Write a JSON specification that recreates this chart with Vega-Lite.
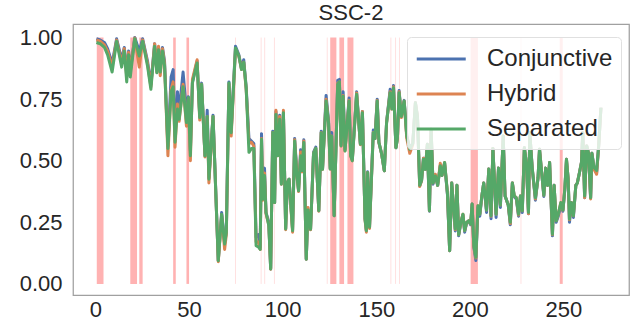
{
"$schema": "https://vega.github.io/schema/vega-lite/v6.json",
"width": 556, "height": 271,
"autosize": {"type": "none"},
"padding": {"left": 73, "top": 24, "right": 3, "bottom": 32},
"background": "white",
"config": {
  "font": "Liberation Sans",
  "view": {"stroke": "#a0a0a0", "strokeWidth": 1.25},
  "axis": {"grid": false, "ticks": false, "tickSize": 0, "domain": false, "labelFontSize": 22, "labelColor": "#262626", "labelFont": "Liberation Sans", "title": null}
},
"title": {"text": "SSC-2", "fontSize": 22, "fontWeight": "normal", "color": "#262626", "anchor": "middle", "offset": 0, "dy": 1, "font": "Liberation Sans"},
"datasets": {
"spans": [
{"start": 0.7, "end": 4.3}, {"start": 18.6, "end": 22.2}, {"start": 23.4, "end": 25.2}, {"start": 41.5, "end": 42.9}, {"start": 48.6, "end": 50.0},
{"start": 125.4, "end": 128.7}, {"start": 130.3, "end": 132.8}, {"start": 134.6, "end": 137.8}, {"start": 200.4, "end": 204.3}, {"start": 248.0, "end": 249.6}
],
"marks": [
{"x": 74.8}, {"x": 88.5}, {"x": 90.4}, {"x": 95.6}, {"x": 123.8}, {"x": 157.8}, {"x": 160.3}, {"x": 162.4}, {"x": 227.3}
],
"series": [
{"x":0.5,"Conjunctive":0.995,"Hybrid":0.99,"Separated":0.98},
{"x":2.5,"Conjunctive":0.99,"Hybrid":0.985,"Separated":0.975},
{"x":4.8,"Conjunctive":0.98,"Hybrid":0.97,"Separated":0.96},
{"x":6.5,"Conjunctive":0.955,"Hybrid":0.945,"Separated":0.93},
{"x":8.9,"Conjunctive":0.895,"Hybrid":0.88,"Separated":0.86},
{"x":11.3,"Conjunctive":0.995,"Hybrid":0.99,"Separated":0.985},
{"x":14,"Conjunctive":0.91,"Hybrid":0.895,"Separated":0.88},
{"x":15.4,"Conjunctive":0.96,"Hybrid":0.955,"Separated":0.945},
{"x":16.7,"Conjunctive":0.855,"Hybrid":0.84,"Separated":0.82},
{"x":17.7,"Conjunctive":0.945,"Hybrid":0.94,"Separated":0.93},
{"x":18.6,"Conjunctive":0.87,"Hybrid":0.86,"Separated":0.84},
{"x":21,"Conjunctive":1.0,"Hybrid":0.998,"Separated":0.995},
{"x":23.4,"Conjunctive":0.945,"Hybrid":0.88,"Separated":0.925},
{"x":25.2,"Conjunctive":0.995,"Hybrid":0.99,"Separated":0.985},
{"x":27.8,"Conjunctive":0.905,"Hybrid":0.895,"Separated":0.885},
{"x":29.6,"Conjunctive":0.81,"Hybrid":0.80,"Separated":0.79},
{"x":31.6,"Conjunctive":0.975,"Hybrid":0.975,"Separated":0.965},
{"x":32.8,"Conjunctive":0.875,"Hybrid":0.86,"Separated":0.857},
{"x":33.7,"Conjunctive":0.96,"Hybrid":0.965,"Separated":0.95},
{"x":34.6,"Conjunctive":0.875,"Hybrid":0.845,"Separated":0.86},
{"x":35.8,"Conjunctive":0.96,"Hybrid":0.955,"Separated":0.945},
{"x":36.9,"Conjunctive":0.905,"Hybrid":0.895,"Separated":0.885},
{"x":38.7,"Conjunctive":0.56,"Hybrid":0.52,"Separated":0.55},
{"x":40.4,"Conjunctive":0.84,"Hybrid":0.79,"Separated":0.78},
{"x":41.5,"Conjunctive":0.87,"Hybrid":0.82,"Separated":0.80},
{"x":42.5,"Conjunctive":0.60,"Hybrid":0.555,"Separated":0.575},
{"x":43.8,"Conjunctive":0.78,"Hybrid":0.73,"Separated":0.71},
{"x":44.7,"Conjunctive":0.70,"Hybrid":0.66,"Separated":0.668},
{"x":46.8,"Conjunctive":0.86,"Hybrid":0.81,"Separated":0.80},
{"x":48.6,"Conjunctive":0.70,"Hybrid":0.64,"Separated":0.655},
{"x":49.6,"Conjunctive":0.76,"Hybrid":0.75,"Separated":0.757},
{"x":50.7,"Conjunctive":0.54,"Hybrid":0.50,"Separated":0.52},
{"x":51.8,"Conjunctive":0.82,"Hybrid":0.83,"Separated":0.816},
{"x":54.3,"Conjunctive":0.905,"Hybrid":0.91,"Separated":0.897},
{"x":55.7,"Conjunctive":0.68,"Hybrid":0.665,"Separated":0.675},
{"x":56.7,"Conjunctive":0.815,"Hybrid":0.81,"Separated":0.81},
{"x":58.5,"Conjunctive":0.52,"Hybrid":0.515,"Separated":0.52},
{"x":59.7,"Conjunctive":0.705,"Hybrid":0.68,"Separated":0.68},
{"x":60.6,"Conjunctive":0.43,"Hybrid":0.41,"Separated":0.425},
{"x":62.8,"Conjunctive":0.685,"Hybrid":0.68,"Separated":0.68},
{"x":65.6,"Conjunctive":0.094,"Hybrid":0.09,"Separated":0.094},
{"x":67.4,"Conjunctive":0.29,"Hybrid":0.28,"Separated":0.283},
{"x":69,"Conjunctive":0.17,"Hybrid":0.14,"Separated":0.162},
{"x":69.9,"Conjunctive":0.21,"Hybrid":0.20,"Separated":0.21},
{"x":71.3,"Conjunctive":0.82,"Hybrid":0.81,"Separated":0.816},
{"x":72.5,"Conjunctive":0.62,"Hybrid":0.60,"Separated":0.614},
{"x":74.8,"Conjunctive":0.965,"Hybrid":0.955,"Separated":0.958},
{"x":76.6,"Conjunctive":0.93,"Hybrid":0.925,"Separated":0.925},
{"x":78,"Conjunctive":0.875,"Hybrid":0.87,"Separated":0.87},
{"x":79.2,"Conjunctive":0.91,"Hybrid":0.90,"Separated":0.90},
{"x":80.5,"Conjunctive":0.80,"Hybrid":0.79,"Separated":0.796},
{"x":82,"Conjunctive":0.59,"Hybrid":0.57,"Separated":0.534},
{"x":83.3,"Conjunctive":0.58,"Hybrid":0.575,"Separated":0.55},
{"x":84.6,"Conjunctive":0.57,"Hybrid":0.56,"Separated":0.55},
{"x":85.8,"Conjunctive":0.19,"Hybrid":0.17,"Separated":0.155},
{"x":87,"Conjunctive":0.20,"Hybrid":0.17,"Separated":0.15},
{"x":88,"Conjunctive":0.15,"Hybrid":0.14,"Separated":0.14},
{"x":88.7,"Conjunctive":0.61,"Hybrid":0.59,"Separated":0.587},
{"x":89.4,"Conjunctive":0.35,"Hybrid":0.34,"Separated":0.344},
{"x":90.3,"Conjunctive":0.47,"Hybrid":0.45,"Separated":0.44},
{"x":91.1,"Conjunctive":0.29,"Hybrid":0.285,"Separated":0.29},
{"x":92.6,"Conjunctive":0.25,"Hybrid":0.24,"Separated":0.236},
{"x":93.6,"Conjunctive":0.061,"Hybrid":0.06,"Separated":0.061},
{"x":94.7,"Conjunctive":0.62,"Hybrid":0.615,"Separated":0.615},
{"x":95.7,"Conjunctive":0.33,"Hybrid":0.33,"Separated":0.33},
{"x":96.4,"Conjunctive":0.70,"Hybrid":0.705,"Separated":0.688},
{"x":97.3,"Conjunctive":0.525,"Hybrid":0.52,"Separated":0.52},
{"x":98.4,"Conjunctive":0.685,"Hybrid":0.68,"Separated":0.668},
{"x":99.3,"Conjunctive":0.41,"Hybrid":0.405,"Separated":0.405},
{"x":100.4,"Conjunctive":0.695,"Hybrid":0.705,"Separated":0.695},
{"x":101.6,"Conjunctive":0.225,"Hybrid":0.22,"Separated":0.223},
{"x":102.5,"Conjunctive":0.41,"Hybrid":0.41,"Separated":0.41},
{"x":103.4,"Conjunctive":0.425,"Hybrid":0.425,"Separated":0.425},
{"x":105.3,"Conjunctive":0.22,"Hybrid":0.21,"Separated":0.216},
{"x":106.4,"Conjunctive":0.59,"Hybrid":0.585,"Separated":0.58},
{"x":107.6,"Conjunctive":0.45,"Hybrid":0.44,"Separated":0.44},
{"x":108.5,"Conjunctive":0.38,"Hybrid":0.375,"Separated":0.378},
{"x":109.6,"Conjunctive":0.545,"Hybrid":0.535,"Separated":0.52},
{"x":110.3,"Conjunctive":0.47,"Hybrid":0.455,"Separated":0.46},
{"x":111.3,"Conjunctive":0.585,"Hybrid":0.58,"Separated":0.574},
{"x":112.6,"Conjunctive":0.10,"Hybrid":0.10,"Separated":0.10},
{"x":113.5,"Conjunctive":0.30,"Hybrid":0.31,"Separated":0.30},
{"x":114.9,"Conjunctive":0.222,"Hybrid":0.22,"Separated":0.222},
{"x":116.5,"Conjunctive":0.535,"Hybrid":0.53,"Separated":0.53},
{"x":117.7,"Conjunctive":0.555,"Hybrid":0.55,"Separated":0.55},
{"x":119.3,"Conjunctive":0.297,"Hybrid":0.295,"Separated":0.297},
{"x":120.6,"Conjunctive":0.62,"Hybrid":0.615,"Separated":0.614},
{"x":121.3,"Conjunctive":0.47,"Hybrid":0.465,"Separated":0.465},
{"x":123.2,"Conjunctive":0.765,"Hybrid":0.75,"Separated":0.742},
{"x":124.5,"Conjunctive":0.665,"Hybrid":0.655,"Separated":0.655},
{"x":125.4,"Conjunctive":0.47,"Hybrid":0.466,"Separated":0.466},
{"x":126.2,"Conjunctive":0.615,"Hybrid":0.60,"Separated":0.60},
{"x":127.5,"Conjunctive":0.277,"Hybrid":0.277,"Separated":0.277},
{"x":129.4,"Conjunctive":0.826,"Hybrid":0.815,"Separated":0.81},
{"x":130.3,"Conjunctive":0.83,"Hybrid":0.82,"Separated":0.82},
{"x":131.2,"Conjunctive":0.565,"Hybrid":0.56,"Separated":0.56},
{"x":132.3,"Conjunctive":0.78,"Hybrid":0.765,"Separated":0.762},
{"x":133.3,"Conjunctive":0.545,"Hybrid":0.54,"Separated":0.54},
{"x":135.5,"Conjunctive":0.755,"Hybrid":0.745,"Separated":0.742},
{"x":136.3,"Conjunctive":0.525,"Hybrid":0.52,"Separated":0.52},
{"x":137.2,"Conjunctive":0.505,"Hybrid":0.50,"Separated":0.50},
{"x":139.5,"Conjunctive":0.78,"Hybrid":0.775,"Separated":0.77},
{"x":141.5,"Conjunctive":0.57,"Hybrid":0.565,"Separated":0.567},
{"x":142.6,"Conjunctive":0.70,"Hybrid":0.70,"Separated":0.695},
{"x":144,"Conjunctive":0.265,"Hybrid":0.26,"Separated":0.263},
{"x":144.7,"Conjunctive":0.216,"Hybrid":0.21,"Separated":0.216},
{"x":145.4,"Conjunctive":0.455,"Hybrid":0.452,"Separated":0.452},
{"x":146.4,"Conjunctive":0.23,"Hybrid":0.225,"Separated":0.23},
{"x":148.4,"Conjunctive":0.625,"Hybrid":0.615,"Separated":0.614},
{"x":149.3,"Conjunctive":0.59,"Hybrid":0.59,"Separated":0.59},
{"x":150.5,"Conjunctive":0.75,"Hybrid":0.745,"Separated":0.742},
{"x":151.4,"Conjunctive":0.575,"Hybrid":0.574,"Separated":0.574},
{"x":152.8,"Conjunctive":0.53,"Hybrid":0.53,"Separated":0.53},
{"x":154.3,"Conjunctive":0.459,"Hybrid":0.459,"Separated":0.459},
{"x":155.5,"Conjunctive":0.655,"Hybrid":0.654,"Separated":0.654},
{"x":157.4,"Conjunctive":0.79,"Hybrid":0.78,"Separated":0.776},
{"x":158.3,"Conjunctive":0.72,"Hybrid":0.71,"Separated":0.71},
{"x":159.2,"Conjunctive":0.805,"Hybrid":0.80,"Separated":0.796},
{"x":160.5,"Conjunctive":0.553,"Hybrid":0.553,"Separated":0.553},
{"x":161.3,"Conjunctive":0.59,"Hybrid":0.59,"Separated":0.59},
{"x":162.2,"Conjunctive":0.785,"Hybrid":0.78,"Separated":0.776},
{"x":163.4,"Conjunctive":0.68,"Hybrid":0.675,"Separated":0.68},
{"x":164.9,"Conjunctive":0.745,"Hybrid":0.742,"Separated":0.742},
{"x":166.3,"Conjunctive":0.60,"Hybrid":0.59,"Separated":0.60},
{"x":167.9,"Conjunctive":0.55,"Hybrid":0.53,"Separated":0.547},
{"x":169.5,"Conjunctive":0.57,"Hybrid":0.565,"Separated":0.57},
{"x":170.9,"Conjunctive":0.735,"Hybrid":0.735,"Separated":0.735},
{"x":172,"Conjunctive":0.68,"Hybrid":0.68,"Separated":0.68},
{"x":173.2,"Conjunctive":0.40,"Hybrid":0.395,"Separated":0.40},
{"x":174.2,"Conjunctive":0.42,"Hybrid":0.42,"Separated":0.42},
{"x":175.2,"Conjunctive":0.51,"Hybrid":0.51,"Separated":0.506},
{"x":176.2,"Conjunctive":0.465,"Hybrid":0.465,"Separated":0.465},
{"x":177.3,"Conjunctive":0.567,"Hybrid":0.567,"Separated":0.567},
{"x":178.4,"Conjunctive":0.295,"Hybrid":0.297,"Separated":0.297},
{"x":179.3,"Conjunctive":0.628,"Hybrid":0.628,"Separated":0.628},
{"x":180.3,"Conjunctive":0.405,"Hybrid":0.41,"Separated":0.41},
{"x":181.6,"Conjunctive":0.44,"Hybrid":0.445,"Separated":0.438},
{"x":182.8,"Conjunctive":0.40,"Hybrid":0.40,"Separated":0.40},
{"x":184.2,"Conjunctive":0.48,"Hybrid":0.49,"Separated":0.48},
{"x":185.1,"Conjunctive":0.44,"Hybrid":0.44,"Separated":0.44},
{"x":186.5,"Conjunctive":0.49,"Hybrid":0.493,"Separated":0.493},
{"x":188,"Conjunctive":0.365,"Hybrid":0.37,"Separated":0.37},
{"x":189.2,"Conjunctive":0.135,"Hybrid":0.135,"Separated":0.135},
{"x":190.3,"Conjunctive":0.41,"Hybrid":0.41,"Separated":0.41},
{"x":191.3,"Conjunctive":0.31,"Hybrid":0.31,"Separated":0.31},
{"x":192.2,"Conjunctive":0.215,"Hybrid":0.22,"Separated":0.223},
{"x":193.1,"Conjunctive":0.40,"Hybrid":0.40,"Separated":0.40},
{"x":194,"Conjunctive":0.195,"Hybrid":0.20,"Separated":0.20},
{"x":195.2,"Conjunctive":0.25,"Hybrid":0.25,"Separated":0.25},
{"x":196.3,"Conjunctive":0.28,"Hybrid":0.283,"Separated":0.283},
{"x":197.2,"Conjunctive":0.21,"Hybrid":0.216,"Separated":0.216},
{"x":198.3,"Conjunctive":0.25,"Hybrid":0.25,"Separated":0.25},
{"x":199.3,"Conjunctive":0.256,"Hybrid":0.256,"Separated":0.256},
{"x":200.4,"Conjunctive":0.24,"Hybrid":0.243,"Separated":0.243},
{"x":201.2,"Conjunctive":0.324,"Hybrid":0.324,"Separated":0.324},
{"x":202.1,"Conjunctive":0.15,"Hybrid":0.155,"Separated":0.155},
{"x":203.2,"Conjunctive":0.095,"Hybrid":0.105,"Separated":0.108},
{"x":204.3,"Conjunctive":0.31,"Hybrid":0.317,"Separated":0.317},
{"x":205.3,"Conjunctive":0.275,"Hybrid":0.283,"Separated":0.283},
{"x":206.4,"Conjunctive":0.357,"Hybrid":0.357,"Separated":0.357},
{"x":207.4,"Conjunctive":0.41,"Hybrid":0.41,"Separated":0.41},
{"x":208.9,"Conjunctive":0.29,"Hybrid":0.30,"Separated":0.30},
{"x":210.1,"Conjunctive":0.466,"Hybrid":0.466,"Separated":0.466},
{"x":211.3,"Conjunctive":0.265,"Hybrid":0.275,"Separated":0.277},
{"x":212.3,"Conjunctive":0.55,"Hybrid":0.55,"Separated":0.55},
{"x":214,"Conjunctive":0.27,"Hybrid":0.283,"Separated":0.283},
{"x":215.3,"Conjunctive":0.47,"Hybrid":0.47,"Separated":0.47},
{"x":216.3,"Conjunctive":0.31,"Hybrid":0.32,"Separated":0.32},
{"x":217.8,"Conjunctive":0.60,"Hybrid":0.60,"Separated":0.60},
{"x":218.8,"Conjunctive":0.357,"Hybrid":0.357,"Separated":0.357},
{"x":220.5,"Conjunctive":0.32,"Hybrid":0.32,"Separated":0.32},
{"x":221.6,"Conjunctive":0.24,"Hybrid":0.245,"Separated":0.25},
{"x":222.7,"Conjunctive":0.41,"Hybrid":0.41,"Separated":0.41},
{"x":223.7,"Conjunctive":0.355,"Hybrid":0.357,"Separated":0.357},
{"x":224.8,"Conjunctive":0.345,"Hybrid":0.35,"Separated":0.35},
{"x":226,"Conjunctive":0.275,"Hybrid":0.28,"Separated":0.283},
{"x":227,"Conjunctive":0.357,"Hybrid":0.357,"Separated":0.357},
{"x":228,"Conjunctive":0.29,"Hybrid":0.297,"Separated":0.297},
{"x":229.1,"Conjunctive":0.553,"Hybrid":0.553,"Separated":0.553},
{"x":230.2,"Conjunctive":0.49,"Hybrid":0.49,"Separated":0.49},
{"x":231.3,"Conjunctive":0.285,"Hybrid":0.285,"Separated":0.29},
{"x":232,"Conjunctive":0.614,"Hybrid":0.614,"Separated":0.614},
{"x":233.3,"Conjunctive":0.47,"Hybrid":0.47,"Separated":0.47},
{"x":235,"Conjunctive":0.34,"Hybrid":0.345,"Separated":0.35},
{"x":236.4,"Conjunctive":0.43,"Hybrid":0.43,"Separated":0.43},
{"x":237.2,"Conjunctive":0.547,"Hybrid":0.547,"Separated":0.547},
{"x":238.5,"Conjunctive":0.44,"Hybrid":0.44,"Separated":0.44},
{"x":239.5,"Conjunctive":0.355,"Hybrid":0.36,"Separated":0.36},
{"x":240.5,"Conjunctive":0.47,"Hybrid":0.47,"Separated":0.47},
{"x":241.5,"Conjunctive":0.40,"Hybrid":0.40,"Separated":0.40},
{"x":242.6,"Conjunctive":0.493,"Hybrid":0.493,"Separated":0.493},
{"x":244.1,"Conjunctive":0.195,"Hybrid":0.2,"Separated":0.202},
{"x":245,"Conjunctive":0.40,"Hybrid":0.40,"Separated":0.40},
{"x":246.1,"Conjunctive":0.25,"Hybrid":0.256,"Separated":0.256},
{"x":247.2,"Conjunctive":0.275,"Hybrid":0.283,"Separated":0.283},
{"x":248.6,"Conjunctive":0.32,"Hybrid":0.33,"Separated":0.33},
{"x":249.7,"Conjunctive":0.295,"Hybrid":0.30,"Separated":0.30},
{"x":250.7,"Conjunctive":0.38,"Hybrid":0.385,"Separated":0.385},
{"x":251.6,"Conjunctive":0.506,"Hybrid":0.506,"Separated":0.506},
{"x":252.5,"Conjunctive":0.425,"Hybrid":0.425,"Separated":0.425},
{"x":253.2,"Conjunctive":0.25,"Hybrid":0.26,"Separated":0.263},
{"x":254.3,"Conjunctive":0.33,"Hybrid":0.33,"Separated":0.33},
{"x":255.3,"Conjunctive":0.27,"Hybrid":0.277,"Separated":0.277},
{"x":256.6,"Conjunctive":0.40,"Hybrid":0.40,"Separated":0.40},
{"x":257.4,"Conjunctive":0.41,"Hybrid":0.41,"Separated":0.41},
{"x":258.5,"Conjunctive":0.45,"Hybrid":0.45,"Separated":0.45},
{"x":259.6,"Conjunctive":0.493,"Hybrid":0.493,"Separated":0.493},
{"x":260.3,"Conjunctive":0.614,"Hybrid":0.614,"Separated":0.614},
{"x":261.3,"Conjunctive":0.35,"Hybrid":0.35,"Separated":0.357},
{"x":262.4,"Conjunctive":0.56,"Hybrid":0.56,"Separated":0.56},
{"x":263.4,"Conjunctive":0.53,"Hybrid":0.53,"Separated":0.53},
{"x":264.5,"Conjunctive":0.35,"Hybrid":0.345,"Separated":0.35},
{"x":265.2,"Conjunctive":0.53,"Hybrid":0.53,"Separated":0.53},
{"x":266.3,"Conjunctive":0.472,"Hybrid":0.465,"Separated":0.472},
{"x":267.7,"Conjunctive":0.45,"Hybrid":0.445,"Separated":0.46},
{"x":268.8,"Conjunctive":0.56,"Hybrid":0.56,"Separated":0.56},
{"x":270,"Conjunctive":0.715,"Hybrid":0.715,"Separated":0.715}
]
},
"layer": [
  {"data": {"name": "spans"},
   "mark": {"type": "rect", "color": "#ff0000", "opacity": 0.3},
   "encoding": {
     "x": {"field": "start", "type": "quantitative"},
     "x2": {"field": "end"},
     "y": {"datum": 0, "type": "quantitative"},
     "y2": {"datum": 1}
   }},
  {"data": {"name": "marks"},
   "mark": {"type": "rule", "color": "#ff0000", "opacity": 0.12, "strokeWidth": 1},
   "encoding": {
     "x": {"field": "x", "type": "quantitative"},
     "y": {"datum": 0, "type": "quantitative"},
     "y2": {"datum": 1}
   }},
  {"data": {"name": "series"},
   "transform": [{"fold": ["Conjunctive", "Hybrid", "Separated"], "as": ["series", "value"]}],
   "mark": {"type": "line", "strokeWidth": 3, "strokeJoin": "round"},
   "encoding": {
     "x": {"field": "x", "type": "quantitative", "scale": {"domain": [-12, 285], "nice": false, "zero": false},
           "axis": {"values": [0, 50, 100, 150, 200, 250], "labelPadding": 4}},
     "y": {"field": "value", "type": "quantitative", "scale": {"domain": [-0.045, 1.055], "nice": false, "zero": false},
           "axis": {"values": [0, 0.25, 0.5, 0.75, 1], "format": ".2f", "labelPadding": 11}},
     "color": {"field": "series", "type": "nominal",
       "scale": {"domain": ["Conjunctive", "Hybrid", "Separated"], "range": ["#4c72b0", "#dd8452", "#55a868"]},
       "legend": {"title": null, "orient": "none", "legendX": 334, "legendY": 13, "symbolType": "M-1,0H3", "symbolSize": 600, "symbolStrokeWidth": 3,
         "labelFontSize": 24, "labelColor": "#262626", "labelFont": "Liberation Sans", "labelOffset": 44,
         "fillColor": "rgba(255,255,255,0.8)", "strokeColor": "#e0e0e0", "cornerRadius": 4, "padding": 8, "rowPadding": 9}}
   }}
]
}
